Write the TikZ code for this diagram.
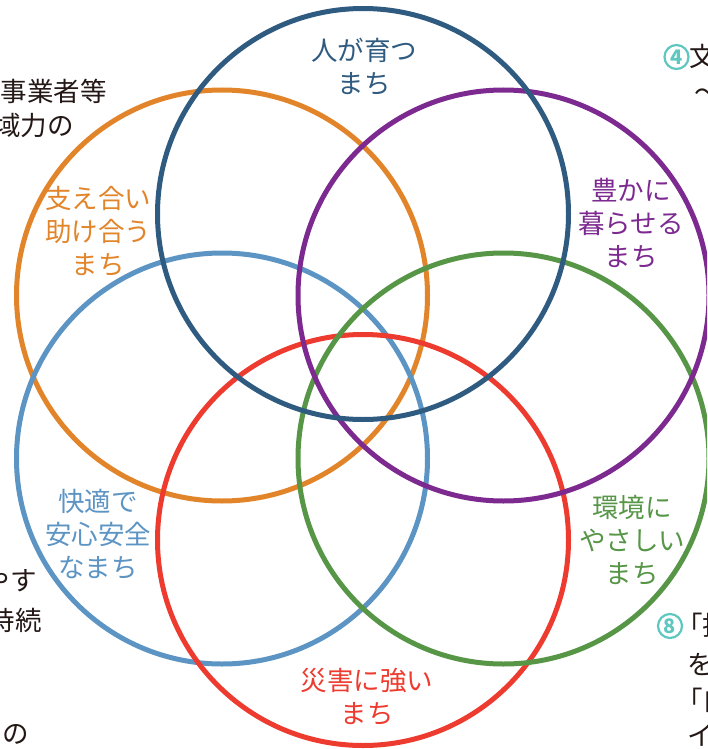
\documentclass[tikz,border=0pt]{standalone}
\usepackage{fontspec}
\newfontfamily\jp{Noto Sans CJK JP}
\definecolor{cblue}{HTML}{2F5B80}
\definecolor{corange}{HTML}{E2852A}
\definecolor{cpurple}{HTML}{7D2A90}
\definecolor{cgreen}{HTML}{569646}
\definecolor{clight}{HTML}{5C94C4}
\definecolor{cred}{HTML}{EE3B2F}
\definecolor{cteal}{HTML}{5EC7BF}
\definecolor{cink}{HTML}{231815}
\tikzset{
  ring/.style={circle, draw=#1, line width=5pt, minimum size=411pt, inner sep=0pt},
  lbl/.style={text=#1, font=\jp\fontsize{26.5}{33}\selectfont, align=center, inner sep=0pt},
  side/.style={text=cink, font=\jp\fontsize{26.5}{33}\selectfont, inner sep=0pt},
  numc/.style={circle, draw=cteal, line width=2.2pt, minimum size=24pt, inner sep=0pt,
    text=cteal, font=\jp\bfseries\fontsize{20}{20}\selectfont}
}
\begin{document}
\begin{tikzpicture}[x=1pt,y=-1pt]
\useasboundingbox (0,0) rectangle (707,749);
\fill[white] (0,0) rectangle (707,749);
\clip (0,0) rectangle (707,749);
% circles
\node[ring=corange] (c6) at (222,295.5) {};
\node[ring=clight]  (c5) at (222,458.5) {};
\node[ring=cred]    (c4) at (363,540) {};
\node[ring=cgreen]  (c3) at (503.5,458.5) {};
\node[ring=cpurple] (c2) at (503.5,295.5) {};
\node[ring=cblue]   (c1) at (363,214) {};
% labels
\node[lbl=cblue]   (t1) at (364,67)  {人が育つ\\まち};
\node[lbl=cpurple] (t2) at (631,223) {豊かに\\暮らせる\\まち};
\node[lbl=cgreen]  (t3) at (632,540) {環境に\\やさしい\\まち};
\node[lbl=cred]    (t4) at (367,697) {災害に強い\\まち};
\node[lbl=clight]  (t5) at (98,534)  {快適で\\安心安全\\なまち};
\node[lbl=corange] (t6) at (98,231)  {支え合い\\助け合う\\まち};
% partial side texts
\node[side, anchor=east] (s1) at (107,91)  {事業者等};
\node[side, anchor=east] (s2) at (74,125)  {地域力の};
\node[side, anchor=east] (s3) at (37,581)  {やす};
\node[side, anchor=east] (s4) at (42,620)  {持続};
\node[side, anchor=east] (s5) at (29,734)  {の};
\node[numc] (n4) at (676.5,57) {4};
\node[side, anchor=west] (s6) at (689,56) {文};
\node[side, anchor=west] (s7) at (694,96) {〜};
\node[numc] (n8) at (670,626) {8};
\node[side, anchor=west] (s8) at (676,625) {「担};
\node[side, anchor=west] (s9) at (687,665) {を};
\node[side, anchor=west] (s10) at (676,700) {「自};
\node[side, anchor=west] (s11) at (687,736) {イ};
\end{tikzpicture}
\end{document}
